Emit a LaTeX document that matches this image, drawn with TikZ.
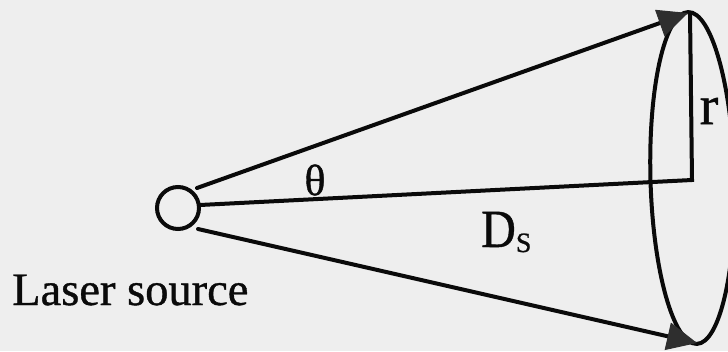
\documentclass[tikz,border=0pt]{standalone}
\usepackage{fontspec}
\setmainfont{Liberation Serif}
\newfontfamily\inkfont[FakeBold=0.8]{Liberation Serif}
\usetikzlibrary{arrows.meta}
\definecolor{paper}{HTML}{EEEEEE}
\definecolor{ink}{HTML}{0A0A0A}
\definecolor{tipc}{HTML}{2E2E2E}
\begin{document}
\begin{tikzpicture}[x=1pt,y=-1pt,
  lin/.style={line width=4pt, draw=ink, line cap=round},
  beam/.style={lin, -{Triangle[length=30pt,width=28pt,fill=tipc,color=tipc,line width=1pt]}},
  lbl/.style={inner sep=0pt, text=ink}]
\useasboundingbox (0,0) rectangle (728,351);
\clip (0,0) rectangle (728,351);
\fill[paper] (0,0) rectangle (728,351);
\node[lin, circle, minimum size=42pt, inner sep=0pt] (src) at (178,208) {};
\coordinate (u0) at (197,188);
\coordinate (m0) at (200,205);
\coordinate (d0) at (198,229);
\coordinate (ttip) at (688,13);
\coordinate (btip) at (697,343);
\coordinate (ctr) at (692,180);
\coordinate (rtop) at (690,13);
\coordinate (ec) at (692.5,178);
\draw[lin, rotate around={1.5:(ec)}] (ec) ellipse [x radius=42, y radius=166];
\draw[beam] (u0) -- (ttip);
\draw[beam] (d0) -- (btip);
\draw[lin, line join=miter, line cap=butt] (m0) -- (ctr) -- (rtop);
\node[lbl, font=\inkfont\fontsize{44}{44}\selectfont] (th) at (315,180) {θ};
\node[lbl, font=\inkfont\fontsize{56}{56}\selectfont] (r) at (709,111) {r};
\node[lbl, anchor=base west, font=\inkfont\fontsize{48}{48}\selectfont] (ds) at (481,247) {\scalebox{1}[1.12]{D}\raisebox{-5pt}{\fontsize{28}{28}\selectfont S}};
\node[lbl, anchor=base west, font=\inkfont\fontsize{46.5}{46.5}\selectfont] (ls) at (12,305) {Laser source};
\end{tikzpicture}
\end{document}
